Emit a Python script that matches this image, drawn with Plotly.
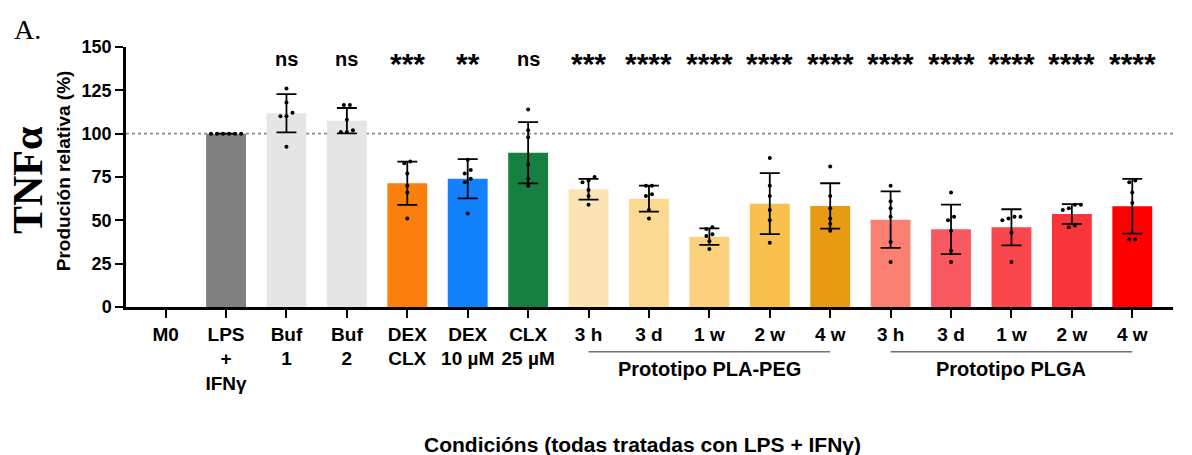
import plotly.graph_objects as go

# ---- data -------------------------------------------------------------
categories = ["M0", "LPS<br>+<br>IFNγ", "Buf<br>1", "Buf<br>2", "DEX<br>CLX",
              "DEX<br>10 µM", "CLX<br>25 µM",
              "3 h", "3 d", "1 w", "2 w", "4 w",
              "3 h", "3 d", "1 w", "2 w", "4 w"]

means = [None, 100.0, 111.8, 107.5, 71.4, 74.0, 89.0,
         67.9, 62.5, 40.6, 59.6, 58.3,
         50.4, 44.8, 46.0, 53.7, 58.1]

sds = [None, None, 11.0, 7.3, 12.5, 11.3, 17.7,
       6.0, 7.5, 4.8, 17.6, 13.1,
       16.3, 14.3, 10.4, 5.7, 15.8]

replicates = [
    [],
    [100, 100, 100, 100, 100, 100],
    [126, 118, 112, 110, 110, 92.5],
    [116.5, 116.5, 108, 102, 101, 101],
    [84, 83, 77, 70, 66, 51],
    [85, 79, 77, 74, 72, 54],
    [114, 102, 98, 82, 74, 70],
    [75, 73, 72, 67.5, 64, 59],
    [70, 70, 65, 64, 56, 51],
    [46, 45, 42, 41, 38, 33.5],
    [86, 70, 64, 56, 50, 37],
    [81, 64, 57, 51, 48, 44],
    [70, 61, 57, 52, 37.5, 26],
    [66, 52, 50, 44, 32.5, 26],
    [52, 52, 51, 50, 43, 26],
    [59, 59, 57, 56, 47, 46],
    [73, 72, 66, 60, 39, 39],
]

sig_labels = ["", "", "ns", "ns", "***", "**", "ns",
              "***", "****", "****", "****", "****",
              "****", "****", "****", "****", "****"]

bar_colors = ["#FFFFFF", "#808080", "#E6E6E6", "#E6E6E6", "#FB7F0C",
              "#1381FB", "#177F42",
              "#FDE4B4", "#FCD993", "#FBD17E", "#F9C04D", "#E69B12",
              "#FA8172", "#F95A61", "#F9474D", "#F7353B", "#FF0000"]

groups = [("Prototipo PLA-PEG", 7, 11), ("Prototipo PLGA", 12, 16)]

FONT = "Liberation Sans, Arial, sans-serif"
SERIF = "Liberation Serif, Times New Roman, serif"

x_idx = list(range(len(categories)))


def spread(values, step=0.1, tol=2.5):
    """Side-by-side offsets for replicate dots with nearly equal values."""
    order = sorted(range(len(values)), key=lambda k: values[k])
    offsets = [0.0] * len(values)
    clusters, current = [], []
    for k in order:
        if current and values[k] - values[current[-1]] > tol:
            clusters.append(current)
            current = []
        current.append(k)
    if current:
        clusters.append(current)
    for cl in clusters:
        n = len(cl)
        for j, k in enumerate(cl):
            offsets[k] = (j - (n - 1) / 2) * step
    return offsets


pts_x, pts_y = [], []
for i, vals in enumerate(replicates):
    for off, v in zip(spread(vals), vals):
        pts_x.append(i + off)
        pts_y.append(v)

fig = go.Figure()

fig.add_trace(go.Bar(
    x=x_idx, y=means, width=0.66,
    marker=dict(color=bar_colors, line=dict(width=0)),
    error_y=dict(type="data", array=sds, visible=True, color="black",
                 thickness=1.8, width=10),
    showlegend=False, hoverinfo="skip",
))

fig.add_trace(go.Scatter(
    x=pts_x, y=pts_y, mode="markers",
    marker=dict(size=4, color="black"),
    showlegend=False, hoverinfo="skip",
))

# reference line at 100 %
fig.add_shape(type="line", xref="paper", yref="y", x0=0, x1=1, y0=100, y1=100,
              line=dict(color="#8a8a8a", width=1.6, dash="dot"), layer="below")

annotations = []
for i, lab in enumerate(sig_labels):
    if not lab:
        continue
    is_star = "*" in lab
    annotations.append(dict(
        x=i, y=140.5 if is_star else 143.3, xref="x", yref="y",
        text=f"<b>{lab}</b>", showarrow=False,
        font=dict(family=FONT, size=30 if is_star else 20, color="black"),
        xanchor="center", yanchor="middle"))

for name, a, b in groups:
    fig.add_shape(type="line", xref="x", yref="paper", x0=a, x1=b,
                  y0=-0.1725, y1=-0.1725, line=dict(color="#2a2a2a", width=1))
    annotations.append(dict(
        x=(a + b) / 2, y=-0.240, xref="x", yref="paper",
        text=f"<b>{name}</b>", showarrow=False,
        font=dict(family=FONT, size=20, color="black"),
        xanchor="center", yanchor="middle"))

annotations += [
    dict(x=0.493, y=-0.527, xref="paper", yref="paper",
         text="<b>Condicións (todas tratadas con LPS + IFNγ)</b>",
         showarrow=False, font=dict(family=FONT, size=21, color="black"),
         xanchor="center", yanchor="middle"),
    dict(x=-0.060, y=0.523, xref="paper", yref="paper",
         text="<b>Produción relativa (%)</b>", textangle=-90,
         showarrow=False, font=dict(family=FONT, size=19, color="black"),
         xanchor="center", yanchor="middle"),
    dict(x=-0.0936, y=0.488, xref="paper", yref="paper",
         text="<b>TNFα</b>", textangle=-90,
         showarrow=False, font=dict(family=SERIF, size=42, color="black"),
         xanchor="center", yanchor="middle"),
    dict(x=-0.109, y=1.069, xref="paper", yref="paper",
         text="A.", showarrow=False,
         font=dict(family=SERIF, size=28, color="black"),
         xanchor="left", yanchor="middle"),
]

fig.update_layout(
    width=1192, height=455,
    margin=dict(l=126, r=19, t=47, b=148),
    paper_bgcolor="white", plot_bgcolor="white",
    bargap=0.34,
    annotations=annotations,
    font=dict(family=FONT, color="black"),
)

fig.update_xaxes(
    range=[-0.656, 16.674],
    tickmode="array", tickvals=x_idx,
    ticktext=[f"<b>{c}</b>" for c in categories],
    tickfont=dict(family=FONT, size=19, color="black"),
    ticks="outside", ticklen=8, tickwidth=2, tickcolor="black",
    showline=True, linewidth=2.5, linecolor="black",
    showgrid=False, zeroline=False,
)

fig.update_yaxes(
    range=[0, 150],
    tickmode="array", tickvals=[0, 25, 50, 75, 100, 125, 150],
    ticktext=[f"<b>{v}</b>" for v in [0, 25, 50, 75, 100, 125, 150]],
    tickfont=dict(family=FONT, size=18, color="black"),
    ticks="outside", ticklen=8, tickwidth=2, tickcolor="black",
    showline=True, linewidth=2.5, linecolor="black",
    showgrid=False, zeroline=False,
)

fig.write_html("out.html")
